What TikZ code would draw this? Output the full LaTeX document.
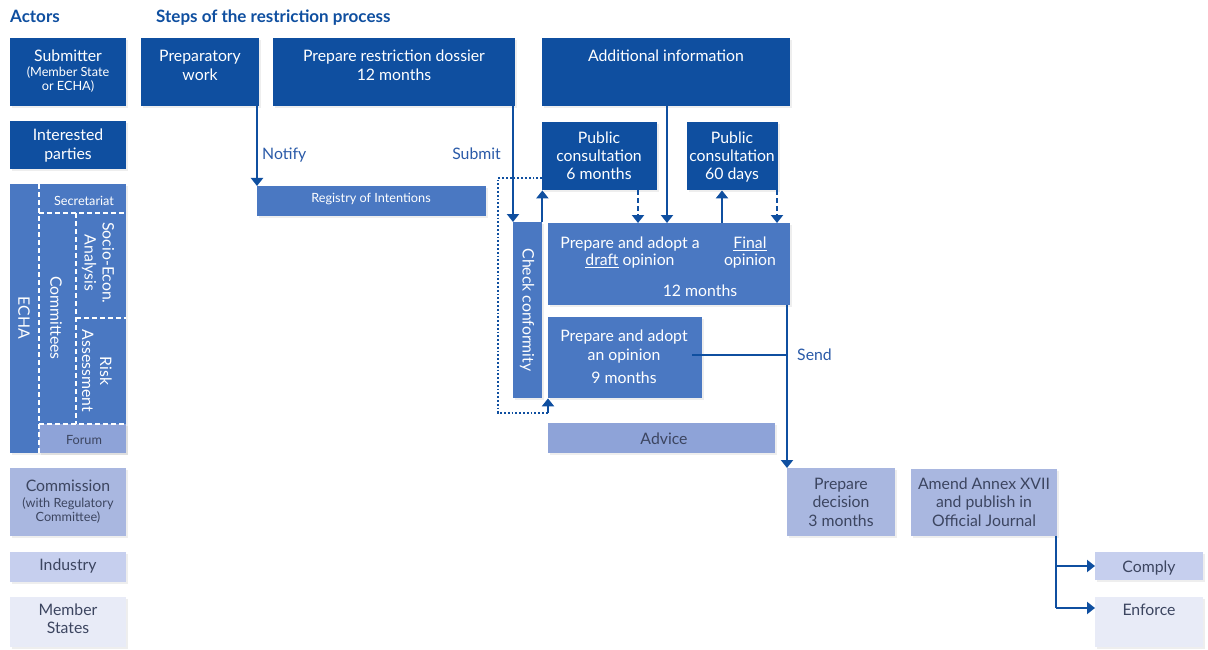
\documentclass[tikz,border=0pt]{standalone}
\usepackage{fontspec}
\setmainfont{Lato}
\usetikzlibrary{arrows.meta,shadows,calc}
\definecolor{dk}{HTML}{0F4FA0}
\definecolor{md}{HTML}{4A78C2}
\definecolor{fo}{HTML}{8EA3D8}
\definecolor{l1}{HTML}{A9B7E0}
\definecolor{l2}{HTML}{C6CFEE}
\definecolor{l3}{HTML}{E8EBF7}
\definecolor{tx}{HTML}{3C4560}
\definecolor{lb}{HTML}{2A5AA8}
\newcommand\bx[6]{\node[#6, anchor=north west, minimum width={(#4-#2)*1pt}, minimum height={(#5-#3)*1pt}] (#1) at (#2,#3) {};}
\begin{document}
\begin{tikzpicture}[x=1pt,y=-1pt,
  box/.style={inner sep=0pt, draw=none, drop shadow={opacity=0.13, shadow xshift=1.5pt, shadow yshift=-2pt}},
  bdk/.style={box, fill=dk},
  bmd/.style={box, fill=md},
  bfo/.style={box, fill=fo},
  bl1/.style={box, fill=l1},
  bl2/.style={box, fill=l2},
  bl3/.style={box, fill=l3},
  big/.style={inner sep=0pt, anchor=base, yshift=-1.5pt, font=\fontsize{15.8}{18}\selectfont},
  sml/.style={inner sep=0pt, anchor=base, yshift=-1pt, font=\fontsize{12.7}{14}\selectfont},
  wt/.style={text=white},
  dt/.style={text=tx},
  head/.style={inner sep=0pt, anchor=base west, text=dk, font=\fontsize{17}{19}\selectfont\bfseries},
  lab/.style={inner sep=0pt, yshift=-1.5pt, text=lb, font=\fontsize{15.8}{18}\selectfont},
  rot/.style={inner sep=0pt, rotate=-90, align=center, text=white, font=\fontsize{15.8}{18}\selectfont},
  arr/.style={draw=dk, line width=2pt, -{Triangle[width=12pt,length=8pt]}},
  ln/.style={draw=dk, line width=2pt},
  wdash/.style={draw=white, line width=1.6pt, dash pattern=on 5pt off 3pt},
]
\useasboundingbox[fill=white] (0,0) rectangle (1208,650);

% headings
\node[head] (hact) at (10,23) {Actors};
\node[head] (hsteps) at (156,23) {Steps of the restriction process};

% actor boxes
\bx{sub}{10}{38}{126}{106}{bdk}
\bx{int}{10}{121}{126}{169}{bdk}
\bx{echa}{10}{184}{126}{453}{bmd}
\bx{forum}{39}{424}{126}{453}{bfo}
\bx{com}{10}{468}{126}{536}{bl1}
\bx{ind}{10}{552}{126}{582}{bl2}
\bx{ms}{10}{597}{126}{647}{bl3}

% process boxes
\bx{prep}{141}{38}{259}{106}{bdk}
\bx{dos}{273}{38}{515}{106}{bdk}
\bx{add}{542}{38}{790}{106}{bdk}
\bx{reg}{257}{186}{486}{216}{bmd}
\bx{pc6}{542}{122}{657}{190}{bdk}
\bx{pc60}{687}{122}{778}{190}{bdk}
\bx{chk}{513}{222}{542}{398}{bmd}
\bx{draft}{548}{223}{790}{305}{bmd}
\bx{nine}{548}{317}{702}{398}{bmd}
\bx{adv}{548}{423}{775}{453}{bfo}
\bx{dec}{787}{468}{895}{536}{bl1}
\bx{amd}{911}{469}{1057}{536}{bl1}
\bx{cpl}{1095}{552}{1203}{580}{bl2}
\bx{enf}{1095}{597}{1203}{647}{bl3}

% ECHA internal dashed lines
\draw[wdash] (39,184) -- (39,453);
\draw[wdash] (39,213) -- (126,213);
\draw[wdash] (76,213) -- (76,424);
\draw[wdash] (76,318) -- (126,318);
\draw[wdash] (39,424) -- (126,424);

% actor texts
\node[big,wt] (tsub) at (68,60) {Submitter};
\node[sml,wt] (tsub2) at (68,76) {(Member State};
\node[sml,wt] (tsub3) at (68,89.5) {or ECHA)};
\node[big,wt] (tint1) at (68,139) {Interested};
\node[big,wt] (tint2) at (68,158) {parties};
\node[sml,wt] (tsec) at (84,204) {Secretariat};
\node[rot] (techa) at (24,318) {ECHA};
\node[rot] (tcom) at (56,318) {Committees};
\node[rot] (tsea) at (98,263) {Socio-Econ.\\Analysis};
\node[rot] (tra) at (97,371) {Risk\\Assessment};
\node[sml,dt] (tfor) at (84,443) {Forum};
\node[big,dt] (tcom1) at (68,490) {Commission};
\node[sml,dt] (tcom2) at (68,506) {(with Regulatory};
\node[sml,dt] (tcom3) at (68,520) {Committee)};
\node[big,dt] (tind) at (68,569) {Industry};
\node[big,dt] (tms1) at (68,614) {Member};
\node[big,dt] (tms2) at (68,632) {States};

% process texts
\node[big,wt] (tprep1) at (200,60) {Preparatory};
\node[big,wt] (tprep2) at (200,79) {work};
\node[big,wt] (tdos1) at (394,60) {Prepare restriction dossier};
\node[big,wt] (tdos2) at (394,79) {12 months};
\node[big,wt] (tadd) at (666,60) {Additional information};
\node[sml,wt] (treg) at (371,202) {Registry of Intentions};
\node[big,wt] (tpc61) at (599,142) {Public};
\node[big,wt] (tpc62) at (599,160) {consultation};
\node[big,wt] (tpc63) at (599,178) {6 months};
\node[big,wt] (tpc601) at (732,142) {Public};
\node[big,wt] (tpc602) at (732,160) {consultation};
\node[big,wt] (tpc603) at (732,178) {60 days};
\node[rot] (tchk) at (527,310) {Check conformity};
\node[big,wt] (tdr1) at (630,247) {Prepare and adopt a};
\node[big,wt] (tdr2) at (630,264) {\underline{draft} opinion};
\node[big,wt] (tfin1) at (750,247) {\underline{Final}};
\node[big,wt] (tfin2) at (750,264) {opinion};
\node[big,wt] (tdr3) at (700,295) {12 months};
\node[big,wt] (tn1) at (624,340) {Prepare and adopt};
\node[big,wt] (tn2) at (624,359) {an opinion};
\node[big,wt] (tn3) at (624,382) {9 months};
\node[big,dt] (tadv) at (664,443) {Advice};
\node[big,dt] (tdec1) at (841,488) {Prepare};
\node[big,dt] (tdec2) at (841,506) {decision};
\node[big,dt] (tdec3) at (841,525) {3 months};
\node[big,dt] (tamd1) at (984,488) {Amend Annex XVII};
\node[big,dt] (tamd2) at (984,506) {and publish in};
\node[big,dt] (tamd3) at (984,525) {Official Journal};
\node[big,dt] (tcpl) at (1149,571) {Comply};
\node[big,dt] (tenf) at (1149,614) {Enforce};

% labels
\node[lab, anchor=base west] (lnot) at (262,158) {Notify};
\node[lab, anchor=base east] (lsub) at (501,158) {Submit};
\node[lab, anchor=base west] (lsend) at (797,359) {Send};

% coordinates
\coordinate (dA) at (498,178);
\coordinate (dB) at (498,413);
\coordinate (dC) at (548,413);
\coordinate (nA) at (692,355);
\coordinate (sJ) at (787,355);
\coordinate (bA) at (1056,566);
\coordinate (bB) at (1056,608);

% connectors
\draw[arr] (prep.south east -| reg.north west) -- (reg.north west);
\draw[arr] (dos.south east -| chk.north west) -- (chk.north west);
\draw[arr] (chk.north east) -- (chk.north east |- pc6.south);
\draw[arr, dash pattern=on 5pt off 3pt] (pc6.south -| 638,0) -- (draft.north -| 638,0);
\draw[arr] (add.south -| 667,0) -- (draft.north -| 667,0);
\draw[arr] (draft.north -| 722,0) -- (pc60.south -| 722,0);
\draw[arr, dash pattern=on 5pt off 3pt] (pc60.south -| 777,0) -- (draft.north -| 777,0);
\draw[draw=dk, line width=1.8pt, dotted] (pc6.west |- dA) -- (dA) -- (dB) -- (dC);
\draw[arr] (dC) -- (dC |- nine.south);
\draw[arr] (draft.south -| sJ) -- (dec.north -| sJ);
\draw[ln] (nA) -- (sJ);
\draw[ln] (amd.south -| bA) -- (bB);
\draw[arr] (bA) -- (cpl.west |- bA);
\draw[arr] (bB) -- (enf.west |- bB);
\end{tikzpicture}
\end{document}
